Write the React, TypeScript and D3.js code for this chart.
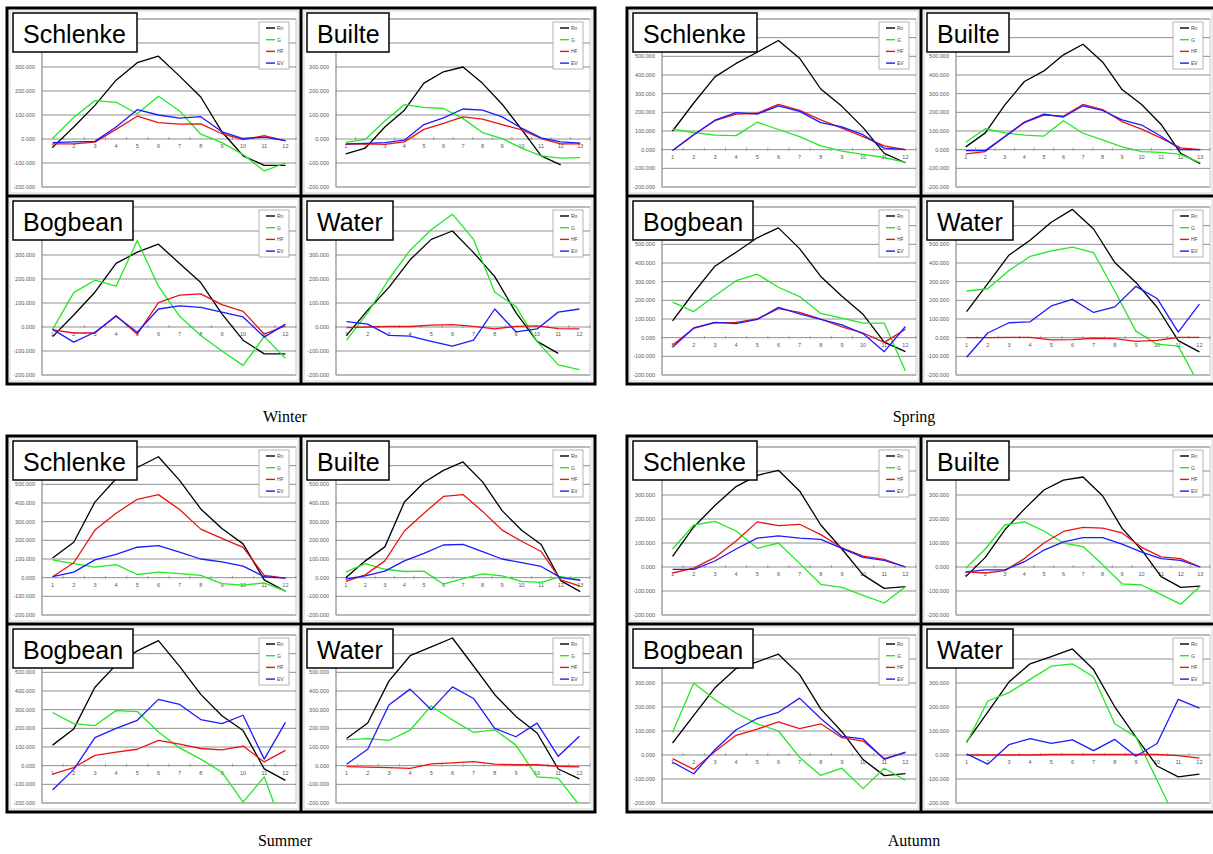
import React from 'react';
import * as d3 from 'd3';

const seasons = ['Winter', 'Spring', 'Summer', 'Autumn'];
const sites = ['Schlenke', 'Builte', 'Bogbean', 'Water'];
const seriesNames = ['Rn', 'G', 'HF', 'EV'];
const seriesColors = ['#000000', '#22e822', '#e81414', '#1a1aff'];
const seasonYMax = [500, 700, 700, 500];
const yMin = -200;

// Winter
const winterSchlenkeRn = [-35, 50, 140, 245, 318, 345, 262, 175, 30, -70, -110, -110];
const winterSchlenkeG = [2, 90, 160, 153, 105, 178, 117, 20, -15, -65, -133, -100];
const winterSchlenkeHF = [-20, -20, -13, 40, 95, 68, 62, 63, 22, -3, 14, -8];
const winterSchlenkeEV = [-15, -12, -10, 50, 122, 100, 87, 93, 30, 2, 8, -7];

const winterBuilteRn = [-62, -38, 50, 120, 233, 280, 300, 232, 145, 40, -70, -108, null];
const winterBuilteG = [-14, -2, 75, 143, 132, 127, 85, 27, 2, -38, -70, -80, -78];
const winterBuilteHF = [-22, -20, -22, -12, 40, 65, 92, 83, 60, 38, 2, -20, -20];
const winterBuilteEV = [-20, -18, -15, -5, 60, 88, 125, 120, 92, 45, 5, -12, -17];

const winterBogbeanRn = [-40, 50, 145, 265, 312, 345, 265, 185, 55, -55, -112, -112];
const winterBogbeanG = [-10, 143, 195, 170, 360, 170, 45, -35, -100, -160, -40, -130];
const winterBogbeanHF = [-12, -25, -25, 48, -30, 102, 133, 138, 93, 65, -30, 5];
const winterBogbeanEV = [-10, -63, -22, 45, -22, 75, 88, 82, 62, 42, -42, 12];

const winterWaterRn = [-35, 70, 165, 280, 365, 400, 310, 210, 60, -60, -110, null];
const winterWaterG = [-55, 60, 200, 320, 405, 470, 365, 145, 85, -60, -158, -178];
const winterWaterHF = [-3, 0, 2, 2, 8, 10, 3, -8, 3, 5, -7, -8];
const winterWaterEV = [22, 12, -35, -38, -60, -80, -55, 75, -20, -8, 62, 75];

// Spring
const springSchlenkeRn = [100, 250, 390, 462, 522, 585, 490, 325, 232, 118, -20, -70];
const springSchlenkeG = [110, 92, 78, 75, 147, 108, 70, 20, -8, -25, -42, -68];
const springSchlenkeHF = [-5, 80, 155, 190, 195, 243, 210, 160, 115, 70, 20, 0];
const springSchlenkeEV = [-5, 80, 158, 198, 190, 235, 205, 145, 122, 80, 8, 0];

const springBuilteRn = [15, 90, 240, 365, 422, 508, 565, 470, 322, 242, 135, -20, -75];
const springBuilteG = [40, 112, 90, 78, 73, 155, 88, 52, 15, -10, -15, -25, -70];
const springBuilteHF = [-22, -10, 70, 145, 185, 180, 242, 215, 150, 110, 62, 10, 0];
const springBuilteEV = [-5, -5, 70, 148, 190, 175, 235, 210, 160, 132, 72, 0, 0];

const springBogbeanRn = [90, 242, 383, 458, 535, 588, 477, 328, 222, 125, -24, -75];
const springBogbeanG = [190, 140, 225, 305, 340, 270, 220, 130, 105, 78, 78, -178];
const springBogbeanHF = [-40, 50, 80, 82, 100, 155, 135, 100, 58, 25, -25, 45];
const springBogbeanEV = [-52, 52, 82, 75, 98, 162, 128, 98, 68, 22, -75, 60];

const springWaterRn = [140, 290, 442, 522, 618, 687, 582, 403, 296, 163, -16, -76];
const springWaterG = [250, 262, 360, 435, 465, 485, 455, 250, 35, -35, -45, -255];
const springWaterHF = [0, 0, 2, 2, -12, -10, -3, -5, -20, -15, 2, 2];
const springWaterEV = [-105, 25, 80, 85, 170, 205, 135, 165, 275, 210, 30, 180];

// Summer
const summerSchlenkeRn = [105, 190, 405, 530, 590, 648, 521, 368, 263, 181, -12, -73];
const summerSchlenkeG = [95, 75, 57, 70, 17, 30, 22, 12, -32, -40, -28, -72];
const summerSchlenkeHF = [5, 80, 255, 345, 420, 445, 365, 260, 210, 162, 12, -2];
const summerSchlenkeEV = [5, 30, 95, 125, 163, 172, 137, 100, 85, 62, 5, -2];

const summerBuilteRn = [0, 90, 165, 405, 510, 575, 620, 513, 359, 254, 178, -16, -75];
const summerBuilteG = [30, 75, 45, 33, 35, -35, -5, 20, 10, -20, -25, 5, -10];
const summerBuilteHF = [-20, 15, 90, 250, 345, 435, 445, 355, 255, 195, 140, -12, -45];
const summerBuilteEV = [-8, 10, 35, 90, 130, 175, 178, 140, 100, 80, 60, 0, -15];

const summerBogbeanRn = [110, 197, 420, 540, 615, 670, 532, 382, 267, 188, -17, -79];
const summerBogbeanG = [285, 225, 215, 295, 290, 180, 95, 35, -35, -195, -60, -370];
const summerBogbeanHF = [-45, -10, 55, 72, 88, 135, 115, 92, 85, 105, 20, 82];
const summerBogbeanEV = [-130, -20, 150, 200, 243, 355, 328, 247, 225, 270, 35, 232];

const summerWaterRn = [145, 229, 453, 589, 636, 684, 534, 380, 264, 175, -18, -71];
const summerWaterG = [140, 145, 135, 190, 320, 245, 178, 192, 110, -60, -68, -212];
const summerWaterHF = [-5, -8, -10, -15, 10, 15, 22, 8, 5, 5, -3, -7];
const summerWaterEV = [8, 88, 325, 410, 300, 422, 360, 200, 155, 228, 50, 158];

// Autumn
const autumnSchlenkeRn = [44, 167, 256, 335, 382, 403, 317, 175, 75, -33, -89, -82];
const autumnSchlenkeG = [75, 175, 190, 150, 78, 100, 15, -72, -85, -118, -150, -82];
const autumnSchlenkeHF = [-25, -5, 40, 108, 188, 172, 178, 135, 80, 45, 32, 0];
const autumnSchlenkeEV = [-10, -10, 25, 75, 120, 130, 120, 115, 78, 40, 28, 0];

const autumnBuilteRn = [-40, 40, 155, 241, 321, 362, 375, 297, 161, 71, -40, -85, -80];
const autumnBuilteG = [-5, 75, 175, 188, 150, 100, 85, 10, -70, -75, -115, -155, -80];
const autumnBuilteHF = [-20, -25, -15, 35, 100, 148, 165, 162, 142, 82, 42, 35, 0];
const autumnBuilteEV = [-20, -12, -12, 22, 70, 105, 122, 122, 95, 62, 35, 28, 0];

const autumnBogbeanRn = [50, 165, 280, 360, 388, 420, 335, 192, 97, -19, -86, -78];
const autumnBogbeanG = [95, 300, 230, 175, 130, 100, -10, -85, -55, -140, -55, -105];
const autumnBogbeanHF = [-15, -60, 15, 82, 108, 138, 110, 130, 72, 58, -15, 10];
const autumnBogbeanEV = [-30, -78, 22, 105, 152, 178, 237, 152, 78, 67, -18, 12];

const autumnWaterRn = [55, 179, 304, 380, 410, 442, 356, 201, 74, -46, -91, -80];
const autumnWaterG = [50, 225, 260, 315, 370, 380, 325, 130, 75, -105, -290, null];
const autumnWaterHF = [0, 0, 0, 0, 2, 2, 2, 2, 2, 2, -3, -13];
const autumnWaterEV = [5, -38, 43, 68, 48, 63, 18, 65, -5, 48, 232, 195];

type Row = (number | null)[];

// season -> site -> [Rn, G, HF, EV]
const table: Row[][][] = [
  [
    [winterSchlenkeRn, winterSchlenkeG, winterSchlenkeHF, winterSchlenkeEV],
    [winterBuilteRn, winterBuilteG, winterBuilteHF, winterBuilteEV],
    [winterBogbeanRn, winterBogbeanG, winterBogbeanHF, winterBogbeanEV],
    [winterWaterRn, winterWaterG, winterWaterHF, winterWaterEV],
  ],
  [
    [springSchlenkeRn, springSchlenkeG, springSchlenkeHF, springSchlenkeEV],
    [springBuilteRn, springBuilteG, springBuilteHF, springBuilteEV],
    [springBogbeanRn, springBogbeanG, springBogbeanHF, springBogbeanEV],
    [springWaterRn, springWaterG, springWaterHF, springWaterEV],
  ],
  [
    [summerSchlenkeRn, summerSchlenkeG, summerSchlenkeHF, summerSchlenkeEV],
    [summerBuilteRn, summerBuilteG, summerBuilteHF, summerBuilteEV],
    [summerBogbeanRn, summerBogbeanG, summerBogbeanHF, summerBogbeanEV],
    [summerWaterRn, summerWaterG, summerWaterHF, summerWaterEV],
  ],
  [
    [autumnSchlenkeRn, autumnSchlenkeG, autumnSchlenkeHF, autumnSchlenkeEV],
    [autumnBuilteRn, autumnBuilteG, autumnBuilteHF, autumnBuilteEV],
    [autumnBogbeanRn, autumnBogbeanG, autumnBogbeanHF, autumnBogbeanEV],
    [autumnWaterRn, autumnWaterG, autumnWaterHF, autumnWaterEV],
  ],
];

// layout
const W = 1213;
const H = 854;
const quadW = 588;
const quadH = 376;
const panelW = quadW / 2;
const panelH = quadH / 2;
const quadPos = [[7, 8], [627, 8], [7, 436], [627, 436]];
const labelPos = [[285, 422], [914, 422], [285, 846], [914, 846]];
const PL = 35, PR = 289, PT = 11, PB = 179;
const titleBoxW: Record<string, number> = { Schlenke: 124, Builte: 82, Bogbean: 120, Water: 86 };
const titleBottom = 44;
const sans = '"Liberation Sans", Arial, sans-serif';

function Panel({ px, py, site, yMax, rows, id }: { px: number; py: number; site: string; yMax: number; rows: Row[]; id: string }) {
  const n = rows[0].length;
  const months = d3.range(1, n + 1);
  const x = d3.scalePoint<number>().domain(months).range([PL, PR]).padding(0.5);
  const y = d3.scaleLinear().domain([yMin, yMax]).range([PB, PT]);
  const yTicks = d3.range(yMin, yMax + 1, 100);
  // labels sitting under the title box are hidden there
  const visibleTicks = yTicks.filter(t => y(t) - 3 > titleBottom);
  const step = x.step();
  const y0 = y(0);
  const line = d3.line<number | null>()
    .defined(d => d != null)
    .x((_, i) => x(i + 1) as number)
    .y(d => y(d as number));

  const lgX = PR - 37, lgY = PT + 3;

  return (
    <g transform={`translate(${px},${py})`}>
      <defs>
        <clipPath id={id}>
          <rect x={PL} y={PT} width={PR - PL} height={PB - PT} />
        </clipPath>
      </defs>
      <rect x={3} y={3} width={panelW - 6} height={panelH - 6} fill="#fff" stroke="#d6d6d6" strokeWidth={1} />
      <rect x={PL} y={PT} width={PR - PL} height={PB - PT} fill="#fff" stroke="#c8c8c8" strokeWidth={1} />
      {yTicks.map(t => (
        <line key={t} x1={PL} x2={PR} y1={y(t)} y2={y(t)} stroke="#8f8f8f" strokeWidth={1} />
      ))}
      <line x1={PL} x2={PL} y1={PT} y2={PB} stroke="#8f8f8f" strokeWidth={1} />
      {d3.range(n + 1).map(i => (
        <line key={i} x1={PL + i * step} x2={PL + i * step} y1={y0 - 2} y2={y0 + 1} stroke="#8f8f8f" strokeWidth={0.8} />
      ))}
      {visibleTicks.map(t => (
        <text key={t} x={PL - 7} y={y(t) + 2} fontSize={5.5} textAnchor="end" fill="#555" fontFamily={sans}>
          {t.toFixed(3)}
        </text>
      ))}
      {months.map(m => (
        <text key={m} x={x(m)} y={y0 + 9} fontSize={5.5} textAnchor="middle" fill="#555" fontFamily={sans}>
          {m}
        </text>
      ))}
      <g clipPath={`url(#${id})`}>
        {rows.map((r, k) => (
          <path key={k} d={line(r) || ''} fill="none" stroke={seriesColors[k]} strokeWidth={1.3} strokeLinejoin="round" />
        ))}
      </g>
      <rect x={lgX} y={lgY} width={30} height={47} fill="#fff" stroke="#a0a0a0" strokeWidth={0.8} />
      {seriesNames.map((s, k) => (
        <g key={s} transform={`translate(${lgX},${lgY + 6 + k * 11.7})`}>
          <line x1={7} x2={16} y1={0} y2={0} stroke={seriesColors[k]} strokeWidth={1.4} />
          <text x={18} y={1.8} fontSize={5} fill="#444" fontFamily={sans}>{s}</text>
        </g>
      ))}
      <rect x={6} y={5} width={titleBoxW[site]} height={titleBottom - 5} fill="#fff" stroke="#000" strokeWidth={1.5} />
      <text x={16} y={35} fontSize={25} fontFamily={sans} fill="#000">{site}</text>
    </g>
  );
}

export default function App() {
  return (
    <svg width={W} height={H} style={{ position: 'absolute', left: 0, top: 0, background: '#fff' }}>
      <rect width={W} height={H} fill="#fff" />
      {seasons.map((season, s) => {
        const [qx, qy] = quadPos[s];
        return (
          <g key={season}>
            {sites.map((site, k) => (
              <Panel
                key={site}
                id={`clip-${s}-${k}`}
                px={qx + (k % 2) * panelW}
                py={qy + Math.floor(k / 2) * panelH}
                site={site}
                yMax={seasonYMax[s]}
                rows={table[s][k]}
              />
            ))}
            <rect x={qx} y={qy} width={quadW} height={quadH} fill="none" stroke="#000" strokeWidth={3} />
            <line x1={qx + panelW} x2={qx + panelW} y1={qy} y2={qy + quadH} stroke="#000" strokeWidth={3} />
            <line x1={qx} x2={qx + quadW} y1={qy + panelH} y2={qy + panelH} stroke="#000" strokeWidth={3} />
            <text x={labelPos[s][0]} y={labelPos[s][1]} fontSize={16} textAnchor="middle" fontFamily='"Liberation Serif", "Times New Roman", serif' fill="#000">
              {season}
            </text>
          </g>
        );
      })}
    </svg>
  );
}
